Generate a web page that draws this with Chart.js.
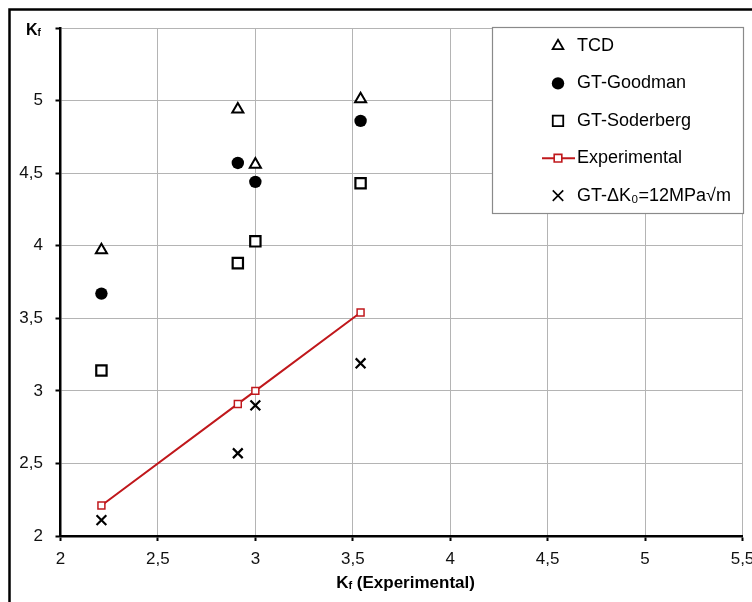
<!DOCTYPE html>
<html>
<head>
<meta charset="utf-8">
<script src="https://cdn.jsdelivr.net/npm/chart.js@4.4.0/dist/chart.umd.min.js"></script>
<style>
    html, body { margin: 0; padding: 0; background: #fff; overflow: hidden; }
    canvas { display: block; }
</style>
</head>
<body>
<canvas id="kfChart" width="752" height="602"></canvas>
<script>
// values
const kfExperimental = [2.21, 2.91, 3.0, 3.54];
const tcdValues = [3.97, 4.94, 4.56, 5.01];
const goodmanValues = [3.67, 4.57, 4.44, 4.86];
const soderbergValues = [3.14, 3.88, 4.03, 4.43];
const experimentalValues = [2.21, 2.91, 3.0, 3.54];
const deltaK0Values = [2.11, 2.57, 2.90, 3.19];
const seriesLabels = ['TCD', 'GT-Goodman', 'GT-Soderberg', 'Experimental', 'GT-ΔK₀=12MPa√m'];
const axisMin = 2;
const axisMax = 5.5;
const axisStep = 0.5;

const FONT = "'Liberation Sans', Arial, sans-serif";
const RED = '#c0181c';

const toPoints = ys => kfExperimental.map((x, i) => ({ x: x, y: ys[i] }));
const commaLabel = v => String(v).replace('.', ',');

// text with a smaller, lowered part (subscripts)
function drawSegments(ctx, segs, x, y, align) {
    let total = 0;
    segs.forEach(s => {
        ctx.font = (s.bold ? 'bold ' : '') + s.size + 'px ' + FONT;
        s.w = ctx.measureText(s.t).width;
        total += s.w;
    });
    let cx = align === 'center' ? x - total / 2 : x;
    segs.forEach(s => {
        ctx.font = (s.bold ? 'bold ' : '') + s.size + 'px ' + FONT;
        ctx.fillText(s.t, cx, y + (s.dy || 0));
        cx += s.w;
    });
}

function drawMarker(ctx, style, x, y, r) {
    ctx.beginPath();
    if (style === 'triangle') {
        for (let k = 0; k < 3; k++) {
            const a = k * 2 * Math.PI / 3;
            const px = x + Math.sin(a) * r, py = y - Math.cos(a) * r;
            k === 0 ? ctx.moveTo(px, py) : ctx.lineTo(px, py);
        }
        ctx.closePath();
        ctx.fill();
        ctx.stroke();
    } else if (style === 'circle') {
        ctx.arc(x, y, r, 0, Math.PI * 2);
        ctx.fill();
    } else if (style === 'rect') {
        const s = r * Math.SQRT1_2;
        ctx.rect(x - s, y - s, 2 * s, 2 * s);
        ctx.fill();
        ctx.stroke();
    } else if (style === 'crossRot') {
        const d = r * Math.SQRT1_2;
        ctx.moveTo(x - d, y - d); ctx.lineTo(x + d, y + d);
        ctx.moveTo(x - d, y + d); ctx.lineTo(x + d, y - d);
        ctx.stroke();
    }
}

const decorPlugin = {
    id: 'decor',
    afterDraw(chart) {
        const ctx = chart.ctx;
        const area = chart.chartArea;
        ctx.save();

        // outer frame (cut off on right/bottom)
        ctx.strokeStyle = '#000';
        ctx.lineWidth = 2.5;
        ctx.beginPath();
        ctx.moveTo(9.5, 605);
        ctx.lineTo(9.5, 9.5);
        ctx.lineTo(760, 9.5);
        ctx.stroke();

        // axis titles
        ctx.fillStyle = '#000';
        ctx.textBaseline = 'alphabetic';
        ctx.textAlign = 'left';
        drawSegments(ctx, [
            { t: 'K', size: 16, bold: true },
            { t: 'f', size: 10, bold: true, dy: 1 }
        ], 26, 35, 'left');
        drawSegments(ctx, [
            { t: 'K', size: 17, bold: true },
            { t: 'f', size: 11, bold: true, dy: 1 },
            { t: ' (Experimental)', size: 17, bold: true }
        ], (area.left + area.right) / 2 + 4, 588, 'center');

        // legend box
        const lx = 492.5, ly = 27.5, lw = 251, lh = 186;
        ctx.fillStyle = '#fff';
        ctx.fillRect(lx, ly, lw, lh);
        ctx.strokeStyle = '#8a8a8a';
        ctx.lineWidth = 1.2;
        ctx.strokeRect(lx, ly, lw, lh);

        chart.data.datasets.forEach((ds, i) => {
            const y = 46 + i * 37.4;
            const mx = 558;
            ctx.strokeStyle = ds.pointBorderColor;
            ctx.fillStyle = ds.pointBackgroundColor;
            ctx.lineWidth = ds.legendBorder;
            if (ds.showLine) {
                ctx.save();
                ctx.strokeStyle = ds.borderColor;
                ctx.lineWidth = ds.borderWidth;
                ctx.beginPath();
                ctx.moveTo(542, y);
                ctx.lineTo(575, y);
                ctx.stroke();
                ctx.restore();
            }
            drawMarker(ctx, ds.pointStyle, mx, y, ds.legendRadius);
            ctx.fillStyle = '#000';
            ctx.textBaseline = 'middle';
            ctx.font = '18px ' + FONT;
            ctx.fillText(ds.label, 577, y);
        });
        ctx.restore();
    }
};

new Chart(document.getElementById('kfChart'), {
    type: 'scatter',
    data: {
        datasets: [
            {
                label: seriesLabels[0],
                data: toPoints(tcdValues),
                pointStyle: 'triangle',
                pointRadius: 6.4,
                pointHoverRadius: 6.4,
                pointBackgroundColor: '#fff',
                pointBorderColor: '#000',
                pointBorderWidth: 2,
                legendRadius: 6.2,
                legendBorder: 1.8
            },
            {
                label: seriesLabels[1],
                data: toPoints(goodmanValues),
                pointStyle: 'circle',
                pointRadius: 6.2,
                pointHoverRadius: 6.2,
                pointBackgroundColor: '#000',
                pointBorderColor: '#000',
                pointBorderWidth: 0,
                legendRadius: 6.2,
                legendBorder: 0
            },
            {
                label: seriesLabels[2],
                data: toPoints(soderbergValues),
                pointStyle: 'rect',
                pointRadius: 7.3,
                pointHoverRadius: 7.3,
                pointBackgroundColor: '#fff',
                pointBorderColor: '#000',
                pointBorderWidth: 2.2,
                legendRadius: 7.4,
                legendBorder: 1.8
            },
            {
                label: seriesLabels[3],
                data: toPoints(experimentalValues),
                showLine: true,
                borderColor: RED,
                borderWidth: 2,
                pointStyle: 'rect',
                pointRadius: 4.9,
                pointHoverRadius: 4.9,
                pointBackgroundColor: '#fff',
                pointBorderColor: RED,
                pointBorderWidth: 1.5,
                legendRadius: 5.4,
                legendBorder: 1.6
            },
            {
                label: seriesLabels[4],
                data: toPoints(deltaK0Values),
                pointStyle: 'crossRot',
                pointRadius: 6.9,
                pointHoverRadius: 6.9,
                pointBackgroundColor: '#000',
                pointBorderColor: '#000',
                pointBorderWidth: 2.2,
                legendRadius: 7.4,
                legendBorder: 1.6
            }
        ]
    },
    options: {
        responsive: false,
        animation: false,
        devicePixelRatio: 1,
        layout: { padding: { left: 0, top: 28, right: 9.5, bottom: 0 } },
        plugins: {
            legend: { display: false },
            tooltip: { enabled: false }
        },
        scales: {
            x: {
                type: 'linear',
                min: axisMin,
                max: axisMax,
                afterFit: s => { s.height = 66; s.paddingRight = 0; s.paddingLeft = 0; },
                ticks: {
                    stepSize: axisStep,
                    color: '#111',
                    padding: 8,
                    font: { family: FONT, size: 17 },
                    maxRotation: 0,
                    callback: v => commaLabel(v)
                },
                grid: { color: '#b4b4b4', lineWidth: 1, tickColor: '#000', tickWidth: 2, tickLength: 5 },
                border: { display: true, color: '#000', width: 2.5 }
            },
            y: {
                type: 'linear',
                min: axisMin,
                max: axisMax,
                afterFit: s => { s.width = 60.5; s.paddingTop = 0; },
                ticks: {
                    stepSize: axisStep,
                    color: '#111',
                    padding: 12.5,
                    font: { family: FONT, size: 17 },
                    callback: v => v === axisMax ? '' : commaLabel(v)
                },
                grid: { color: '#b4b4b4', lineWidth: 1, tickColor: '#000', tickWidth: 2, tickLength: 5 },
                border: { display: true, color: '#000', width: 2.5 }
            }
        }
    },
    plugins: [decorPlugin]
});
</script>
</body>
</html>
